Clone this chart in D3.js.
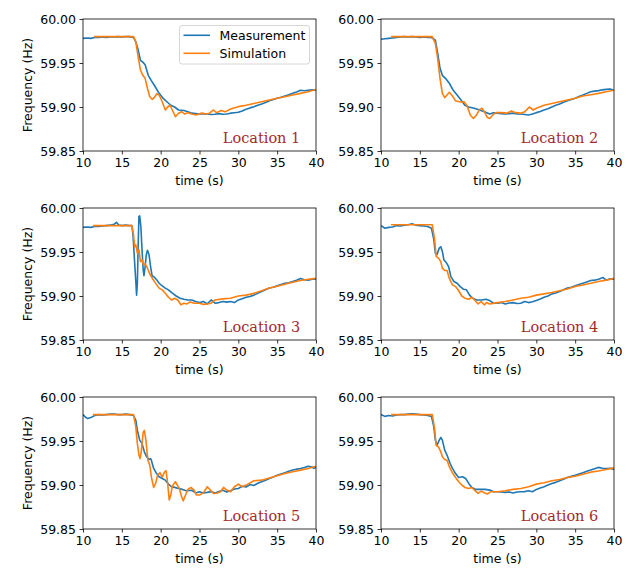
<!DOCTYPE html>
<html>
<head>
<meta charset="utf-8">
<script src="https://cdn.jsdelivr.net/npm/d3@7"></script>
<style>
  html, body { margin: 0; padding: 0; background: #ffffff; }
  svg { display: block; }
  text { font-family: "DejaVu Sans", sans-serif; }
</style>
</head>
<body>
<svg id="chart" width="629" height="570"></svg>
<script>
// ---------- data ----------
const xTicks = [10, 15, 20, 25, 30, 35, 40];
const yTicks = [59.85, 59.90, 59.95, 60.00];
const locationNames = ["Location 1", "Location 2", "Location 3", "Location 4", "Location 5", "Location 6"];
const seriesNames = ["Measurement", "Simulation"];

const meas1 = [[10,59.978],[10.5,59.9785],[11,59.978],[11.5,59.979],[12,59.979],[12.5,59.9795],[13,59.979],[13.5,59.9795],[14,59.9795],[14.5,59.980],[15,59.9795],[15.5,59.980],[16,59.980],[16.5,59.979],[16.8,59.974],[17.1,59.965],[17.4,59.953],[17.7,59.951],[18.0,59.948],[18.4,59.936],[18.8,59.930],[19.3,59.923],[19.8,59.9155],[20.3,59.910],[20.8,59.906],[21.3,59.902],[21.8,59.900],[22.3,59.8966],[23,59.896],[23.5,59.8947],[24,59.893],[24.5,59.8925],[25,59.892],[25.5,59.8925],[26,59.892],[26.5,59.8915],[27,59.8917],[27.5,59.8925],[28,59.8917],[28.5,59.892],[29,59.893],[29.5,59.8935],[30,59.894],[30.5,59.8955],[31,59.8974],[31.5,59.899],[32,59.9004],[32.5,59.902],[33,59.9034],[33.5,59.905],[34,59.907],[34.5,59.9085],[35,59.910],[35.5,59.911],[36,59.9125],[36.5,59.914],[37,59.9155],[37.5,59.917],[38,59.919],[38.5,59.9185],[39,59.919],[39.5,59.9195],[40,59.919]];
const sim1 = [[11.4,59.980],[16.5,59.980],[16.8,59.974],[17.1,59.957],[17.4,59.942],[17.7,59.936],[18.0,59.9326],[18.3,59.921],[18.6,59.9117],[18.9,59.9087],[19.2,59.911],[19.5,59.915],[19.8,59.9136],[20.2,59.906],[20.6,59.8966],[20.9,59.900],[21.2,59.902],[21.5,59.8966],[21.9,59.889],[22.3,59.893],[22.7,59.8947],[23.1,59.892],[23.5,59.8936],[24,59.892],[24.6,59.891],[25.2,59.893],[25.8,59.892],[26.3,59.893],[26.8,59.8966],[27.2,59.8936],[27.8,59.896],[28.3,59.8945],[29,59.8977],[30,59.9004],[31,59.902],[32,59.904],[33,59.906],[34,59.908],[35,59.910],[36,59.9117],[37,59.9136],[38,59.9155],[39,59.9174],[40,59.920]];

const meas2 = [[10,59.977],[10.5,59.9775],[11,59.978],[11.5,59.9785],[12,59.979],[12.5,59.9795],[13,59.980],[13.5,59.9795],[14,59.980],[14.5,59.9795],[15,59.979],[15.5,59.9795],[16,59.979],[16.5,59.979],[17,59.976],[17.3,59.961],[17.6,59.944],[17.9,59.936],[18.3,59.9326],[18.8,59.927],[19.3,59.919],[19.8,59.9136],[20.3,59.908],[20.8,59.902],[21.3,59.900],[22,59.8985],[22.7,59.8966],[23.3,59.8947],[24,59.892],[24.5,59.8935],[25,59.893],[25.5,59.8925],[26,59.892],[26.5,59.8925],[27,59.893],[27.5,59.892],[28,59.892],[28.5,59.8915],[29,59.891],[29.5,59.892],[30,59.8936],[30.5,59.895],[31,59.8966],[31.5,59.898],[32,59.900],[32.5,59.902],[33,59.9034],[33.5,59.9055],[34,59.9072],[34.5,59.9085],[35,59.910],[35.5,59.912],[36,59.9136],[36.5,59.9155],[37,59.9174],[37.5,59.918],[38,59.9186],[38.5,59.9195],[39,59.920],[39.5,59.9205],[40,59.919]];
const sim2 = [[11.3,59.980],[16.6,59.980],[17,59.9723],[17.3,59.955],[17.6,59.9326],[17.9,59.9155],[18.2,59.9106],[18.5,59.9136],[18.8,59.9167],[19.2,59.9125],[19.6,59.907],[20.2,59.9057],[20.7,59.906],[21.1,59.901],[21.5,59.891],[21.9,59.887],[22.3,59.891],[22.7,59.8973],[23,59.8985],[23.3,59.8947],[23.7,59.888],[24,59.887],[24.4,59.891],[24.8,59.8936],[25.5,59.8936],[26.2,59.893],[26.8,59.8955],[27.3,59.8936],[28,59.893],[28.5,59.8945],[29.1,59.900],[29.6,59.8966],[30,59.8985],[31,59.902],[32,59.904],[33,59.906],[34,59.908],[35,59.910],[36,59.9125],[37,59.914],[38,59.9155],[39,59.9174],[40,59.919]];

const meas3 = [[10,59.978],[10.5,59.9785],[11,59.978],[11.5,59.979],[12,59.979],[12.5,59.9795],[13,59.980],[13.5,59.9805],[14,59.9814],[14.3,59.9837],[14.6,59.9806],[15,59.980],[15.5,59.9805],[16,59.980],[16.3,59.980],[16.45,59.968],[16.6,59.945],[16.8,59.9165],[16.9,59.901],[17.0,59.9145],[17.1,59.956],[17.2,59.9905],[17.3,59.991],[17.45,59.979],[17.6,59.9525],[17.75,59.930],[17.85,59.923],[18.0,59.9335],[18.15,59.947],[18.3,59.952],[18.5,59.947],[18.7,59.9335],[18.9,59.923],[19.2,59.9214],[19.5,59.9183],[19.8,59.9145],[20.2,59.9115],[20.6,59.909],[21.0,59.907],[21.5,59.9032],[22,59.900],[22.5,59.8975],[23,59.8963],[23.5,59.8955],[24,59.8955],[24.5,59.8937],[25,59.8925],[25.5,59.8937],[26,59.891],[26.5,59.8955],[27,59.8918],[27.5,59.8925],[28,59.8937],[28.5,59.893],[29,59.8937],[29.5,59.8925],[30,59.8955],[30.5,59.897],[31,59.8986],[31.5,59.8995],[32,59.901],[32.5,59.903],[33,59.905],[33.5,59.907],[34,59.909],[34.5,59.910],[35,59.9115],[35.5,59.913],[36,59.9145],[36.5,59.915],[37,59.9164],[37.5,59.918],[38,59.920],[38.5,59.9185],[39,59.918],[39.5,59.919],[40,59.919]];
const sim3 = [[11.3,59.980],[16.3,59.980],[16.5,59.9696],[16.65,59.956],[16.8,59.958],[17.0,59.9487],[17.2,59.9525],[17.4,59.939],[17.6,59.941],[17.8,59.9354],[18.0,59.9366],[18.3,59.9316],[18.6,59.925],[19.0,59.919],[19.4,59.9138],[19.8,59.909],[20.2,59.907],[20.6,59.9032],[21,59.8986],[21.4,59.8955],[21.8,59.8975],[22.2,59.8955],[22.6,59.890],[23,59.8918],[23.4,59.891],[23.8,59.8933],[24.3,59.8918],[25,59.8918],[25.5,59.8905],[26,59.891],[26.5,59.8918],[27,59.8955],[28,59.8967],[29,59.8975],[30,59.900],[31,59.901],[32,59.903],[33,59.906],[34,59.909],[35,59.911],[36,59.9134],[37,59.9157],[38,59.9176],[39,59.919],[40,59.920]];

const meas4 = [[10,59.980],[10.5,59.977],[11,59.978],[11.5,59.9785],[12,59.980],[12.5,59.9795],[13,59.9805],[13.5,59.981],[14,59.982],[14.5,59.9805],[15,59.980],[15.5,59.9795],[16,59.979],[16.5,59.977],[16.8,59.964],[17.0,59.9487],[17.2,59.947],[17.5,59.9544],[17.7,59.956],[17.9,59.9506],[18.1,59.941],[18.4,59.938],[18.7,59.9335],[19,59.922],[19.4,59.9164],[19.8,59.9145],[20.2,59.9107],[20.6,59.9077],[21.0,59.907],[21.4,59.901],[21.8,59.8975],[22.3,59.8955],[23,59.8955],[23.5,59.8963],[24,59.8948],[24.5,59.8918],[25,59.8918],[25.5,59.8925],[26,59.891],[26.5,59.892],[27,59.8925],[27.5,59.8915],[28,59.8918],[28.5,59.8937],[29,59.8925],[29.5,59.8935],[30,59.8948],[30.5,59.8965],[31,59.8986],[31.5,59.900],[32,59.9024],[32.5,59.9035],[33,59.905],[33.5,59.907],[34,59.909],[34.5,59.910],[35,59.9115],[35.5,59.913],[36,59.9145],[36.5,59.916],[37,59.9176],[37.5,59.918],[38,59.919],[38.6,59.921],[39,59.918],[39.5,59.9195],[40,59.919]];
const sim4 = [[11.3,59.981],[16.6,59.981],[16.9,59.964],[17.1,59.945],[17.4,59.943],[17.7,59.939],[17.9,59.9316],[18.2,59.929],[18.5,59.929],[18.8,59.920],[19.2,59.9126],[19.6,59.9107],[20,59.906],[20.4,59.900],[20.8,59.8975],[21.3,59.8963],[21.7,59.8986],[22.1,59.8948],[22.5,59.891],[22.9,59.8937],[23.3,59.890],[23.6,59.8925],[24,59.891],[25,59.8925],[26,59.8937],[27,59.8955],[28,59.8975],[29,59.8986],[30,59.901],[31,59.9024],[32,59.904],[33,59.906],[34,59.908],[35,59.9107],[36,59.9126],[37,59.9145],[38,59.9164],[39,59.918],[40,59.920]];

const meas5 = [[10,59.980],[10.3,59.9773],[10.6,59.9755],[11,59.9766],[11.5,59.979],[12,59.980],[12.5,59.9795],[13,59.980],[13.5,59.9805],[14,59.9807],[14.5,59.980],[15,59.980],[15.5,59.9805],[16,59.980],[16.5,59.979],[16.8,59.9736],[17.0,59.962],[17.3,59.951],[17.6,59.947],[17.9,59.9377],[18.2,59.932],[18.5,59.929],[18.7,59.930],[18.8,59.9282],[19.1,59.9188],[19.4,59.914],[19.8,59.9093],[20.2,59.9074],[20.6,59.9055],[21,59.901],[21.4,59.898],[21.8,59.8973],[22.3,59.896],[22.8,59.895],[23.3,59.8935],[24,59.894],[24.5,59.891],[25,59.8923],[25.5,59.891],[26,59.8916],[26.5,59.8925],[27,59.891],[27.5,59.8925],[28,59.894],[28.5,59.892],[29,59.8935],[29.5,59.8955],[30,59.896],[30.5,59.8985],[31,59.8977],[31.5,59.9005],[32,59.8995],[32.5,59.902],[33,59.9037],[33.5,59.9055],[34,59.9074],[34.5,59.909],[35,59.911],[35.5,59.9125],[36,59.914],[36.5,59.9155],[37,59.917],[37.5,59.918],[38,59.9188],[38.5,59.920],[39,59.9214],[39.5,59.9205],[39.7,59.919],[40,59.920]];
const sim5 = [[11.3,59.980],[16.5,59.980],[16.8,59.966],[17.0,59.947],[17.2,59.934],[17.35,59.930],[17.5,59.9377],[17.75,59.960],[17.9,59.962],[18.1,59.951],[18.35,59.9282],[18.6,59.9226],[18.8,59.9093],[19.1,59.8972],[19.35,59.9018],[19.6,59.911],[19.9,59.914],[20.2,59.909],[20.5,59.915],[20.7,59.9162],[20.9,59.9018],[21.1,59.883],[21.3,59.8886],[21.5,59.8987],[21.9,59.9037],[22.2,59.899],[22.4,59.896],[22.7,59.8867],[22.9,59.882],[23.2,59.8886],[23.5,59.895],[23.9,59.8972],[24.3,59.8942],[24.6,59.8886],[25,59.8886],[25.5,59.891],[26,59.898],[26.4,59.8942],[26.8,59.8904],[27.3,59.891],[27.7,59.8923],[28.1,59.8972],[28.5,59.8942],[29,59.8923],[29.5,59.898],[30,59.901],[30.5,59.898],[31,59.8999],[32,59.9048],[33,59.9055],[34,59.908],[35,59.9105],[36,59.913],[37,59.915],[38,59.9169],[39,59.9188],[40,59.9214]];

const meas6 = [[10,59.980],[10.5,59.978],[11,59.979],[11.5,59.9785],[12,59.9795],[12.5,59.980],[13,59.980],[13.5,59.9805],[14,59.981],[14.5,59.9805],[15,59.980],[15.5,59.9795],[16,59.979],[16.5,59.978],[16.8,59.966],[17.0,59.951],[17.2,59.945],[17.5,59.951],[17.7,59.954],[17.9,59.951],[18.2,59.9396],[18.5,59.934],[18.9,59.9244],[19.2,59.9188],[19.6,59.913],[20.0,59.9086],[20.5,59.9093],[20.9,59.9074],[21.3,59.9018],[21.7,59.8972],[22.2,59.895],[22.8,59.895],[23.4,59.895],[24,59.8942],[24.5,59.8923],[25,59.8923],[25.5,59.892],[26,59.8916],[26.5,59.892],[27,59.891],[27.5,59.892],[28,59.8923],[28.5,59.8925],[29,59.8935],[29.5,59.8923],[30,59.895],[30.5,59.8965],[31,59.898],[31.5,59.900],[32,59.9018],[32.5,59.903],[33,59.9048],[33.5,59.9065],[34,59.9086],[34.5,59.9098],[35,59.911],[35.5,59.9125],[36,59.914],[36.5,59.9155],[37,59.917],[37.5,59.9185],[38,59.920],[38.5,59.919],[39,59.9188],[39.5,59.919],[40,59.9177]];
const sim6 = [[11.3,59.980],[16.6,59.980],[16.9,59.964],[17.1,59.945],[17.4,59.9433],[17.7,59.9377],[17.9,59.932],[18.2,59.929],[18.5,59.9282],[18.8,59.9207],[19.2,59.9139],[19.6,59.9086],[20,59.9037],[20.4,59.900],[20.8,59.8972],[21.3,59.896],[21.7,59.8972],[22.1,59.8935],[22.5,59.8904],[22.9,59.893],[23.3,59.8912],[23.7,59.8897],[24.1,59.8923],[25,59.8923],[26,59.8935],[27,59.895],[28,59.896],[29,59.898],[30,59.901],[31,59.9025],[32,59.9048],[33,59.9063],[34,59.9086],[35,59.910],[36,59.9123],[37,59.9146],[38,59.916],[39,59.9176],[40,59.9195]];

const measurements = [meas1, meas2, meas3, meas4, meas5, meas6];
const simulations = [sim1, sim2, sim3, sim4, sim5, sim6];

// ---------- layout ----------
const colLeft = [83, 381];
const rowTop = [19, 208, 397];
const plotW = 233, plotH = 132;
const colors = { meas: "#1f77b4", sim: "#ff7f0e" };
const fontSize = 12.5;

const svg = d3.select("#chart");
svg.append("rect").attr("width", 629).attr("height", 570).attr("fill", "#ffffff");

const defs = svg.append("defs");

locationNames.forEach((name, i) => {
  const col = i % 2, row = Math.floor(i / 2);
  const left = colLeft[col], top = rowTop[row];
  const x = d3.scaleLinear().domain([10, 40]).range([0, plotW]);
  const y = d3.scaleLinear().domain([59.85, 60.00]).range([plotH, 0]);

  const g = svg.append("g").attr("transform", `translate(${left},${top})`);

  defs.append("clipPath").attr("id", "clip" + i)
    .append("rect").attr("x", 0).attr("y", 0).attr("width", plotW).attr("height", plotH);

  const line = d3.line().x(d => x(d[0])).y(d => y(d[1]));

  const lines = g.append("g").attr("clip-path", `url(#clip${i})`);
  lines.append("path").datum(measurements[i])
    .attr("d", line).attr("fill", "none").attr("stroke", colors.meas)
    .attr("stroke-width", 1.6).attr("stroke-linejoin", "round");
  lines.append("path").datum(simulations[i])
    .attr("d", line).attr("fill", "none").attr("stroke", colors.sim)
    .attr("stroke-width", 1.6).attr("stroke-linejoin", "round");

  // axes
  const xAxis = d3.axisBottom(x).tickValues(xTicks).tickSize(3.5).tickPadding(3.5).tickSizeOuter(0)
    .tickFormat(d3.format("d"));
  const yAxis = d3.axisLeft(y).tickValues(yTicks).tickSize(3.5).tickPadding(3.5).tickSizeOuter(0)
    .tickFormat(d3.format(".2f"));

  const gx = g.append("g").attr("transform", `translate(0,${plotH})`).call(xAxis);
  const gy = g.append("g").call(yAxis);
  [gx, gy].forEach(a => {
    a.select(".domain").remove();
    a.selectAll(".tick line").attr("stroke", "#000").attr("stroke-width", 0.8);
    a.selectAll(".tick text").attr("fill", "#000").style("font-size", fontSize + "px")
      .style("font-family", "'DejaVu Sans', sans-serif");
  });

  // frame
  g.append("rect").attr("x", 0).attr("y", 0).attr("width", plotW).attr("height", plotH)
    .attr("fill", "none").attr("stroke", "#000").attr("stroke-width", 0.8);

  // x label
  g.append("text").attr("x", plotW / 2).attr("y", plotH + 33.5)
    .attr("text-anchor", "middle").style("font-size", fontSize + "px").attr("fill", "#000")
    .text("time (s)");

  // y label (left column only)
  if (col === 0) {
    g.append("text").attr("transform", `translate(${32 - left},${plotH / 2}) rotate(-90)`)
      .attr("text-anchor", "middle").style("font-size", fontSize + "px").attr("fill", "#000")
      .text("Frequency (Hz)");
  }

  // location label
  g.append("text").attr("x", plotW * 0.6).attr("y", plotH - 8.5)
    .style("font-family", "'DejaVu Serif', serif").style("font-size", "14.5px")
    .attr("fill", "#a52a2a").text(name);

  // legend in first panel
  if (i === 0) {
    const lg = g.append("g").attr("transform", `translate(${179.5 - left},${25.5 - top})`);
    lg.append("rect").attr("width", 130).attr("height", 38.5).attr("rx", 2.5)
      .attr("fill", "#ffffff").attr("fill-opacity", 0.8).attr("stroke", "#cccccc").attr("stroke-width", 0.8);
    [colors.meas, colors.sim].forEach((c, k) => {
      const yy = 9.8 + k * 18;
      lg.append("line").attr("x1", 4).attr("x2", 30.5).attr("y1", yy).attr("y2", yy)
        .attr("stroke", c).attr("stroke-width", 1.6);
      lg.append("text").attr("x", 40).attr("y", yy + 4.5)
        .style("font-size", fontSize + "px").attr("fill", "#000").text(seriesNames[k]);
    });
  }
});
</script>
</body>
</html>
